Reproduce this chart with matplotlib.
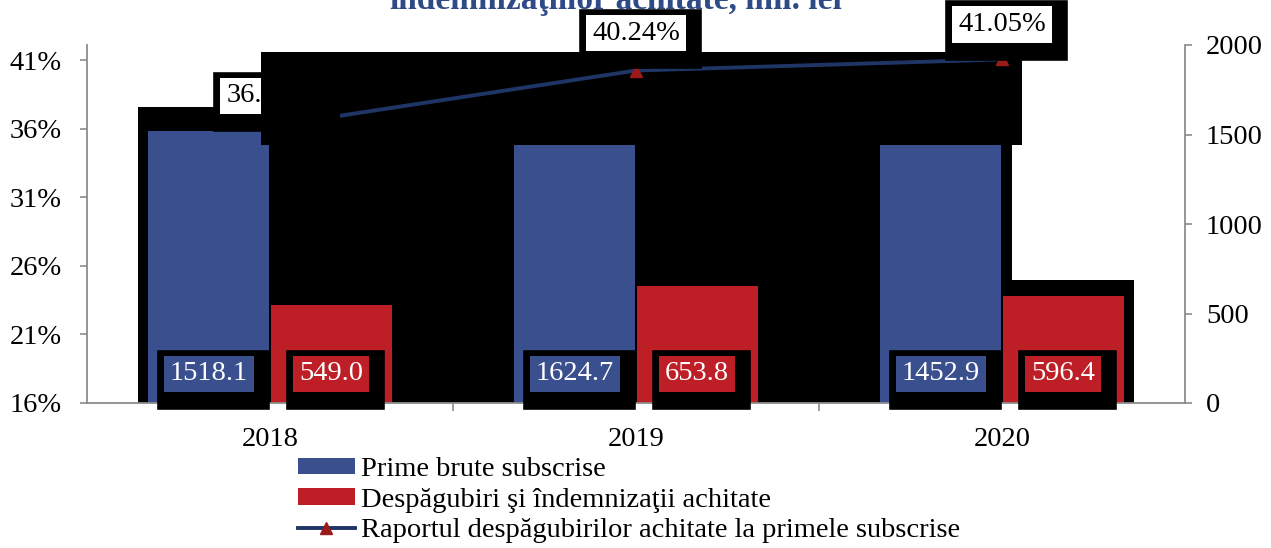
import matplotlib
matplotlib.use("Agg")
import matplotlib.pyplot as plt
import matplotlib.patheffects as pe
from matplotlib.patches import Rectangle
import numpy as np

plt.rcParams["font.family"] = ["Liberation Serif", "DejaVu Serif"]

years = ["2018", "2019", "2020"]
prime = [1518.1, 1624.7, 1452.9]          # Prime brute subscrise, mil. lei
desp = [549.0, 653.8, 596.4]              # Despăgubiri şi îndemnizaţii achitate
raport = [0.3616, 0.4024, 0.4105]         # raportul despăgubirilor / prime
pct_ticks = [0.16, 0.21, 0.26, 0.31, 0.36, 0.41]
mil_ticks = [0, 500, 1000, 1500, 2000]

BLUE, RED, NAVY, GRAY = "#3A4F8E", "#BE1E25", "#1F3566", "#8C8C8C"
FS = 20.5

fig = plt.figure(figsize=(12.71, 5.48), dpi=100)
ax = fig.add_axes([87 / 1271, 145 / 548, 1098 / 1271, 358 / 548])
ax2 = ax.twinx()
ax.yaxis.tick_right()
ax2.yaxis.tick_left()

x = np.arange(len(years))
w, off = 0.33, 0.167

# black "shadow" artefacts of the original export
for x0, x1, y1 in [(-0.36, -0.025, 1654), (-0.025, 2.027, 1441)]:
    ax.add_patch(Rectangle((x0, 0), x1 - x0, y1, fc="black", ec="none", zorder=1))
ax.add_patch(Rectangle((x[2] + off - w / 2, 0), w + 0.03, desp[2] + 90,
                       fc="black", ec="none", zorder=1))

b1 = ax.bar(x - off, prime, w, color=BLUE, zorder=2, label="Prime brute subscrise")
b2 = ax.bar(x + off, desp, w, color=RED, zorder=2,
            label="Despăgubiri şi îndemnizaţii achitate")


def boxed(axis, xv, yv, s, fc, tc, dy, z):
    t = axis.annotate(s, (xv, yv), xytext=(0, dy), textcoords="offset points",
                      ha="center", va="center", fontsize=FS, color=tc, zorder=z,
                      bbox=dict(boxstyle="square,pad=0.2", fc=fc, ec="none"))
    # solid black drop shadow, larger than the label box
    t.get_bbox_patch().set_path_effects([
        pe.SimplePatchShadow(offset=(3.2, -4.3), shadow_rgbFace="black", alpha=1.0,
                             linewidth=17, foreground="black", joinstyle="miter"),
        pe.Normal()])
    return t


for bars, vals, fc in ((b1, prime, BLUE), (b2, desp, RED)):
    for r, v in zip(bars, vals):
        boxed(ax, r.get_x() + r.get_width() / 2, 0, f"{v:.1f}", fc, "white", 21, 6)

ax.set_xlim(-0.5, 2.5)
ax.set_ylim(0, 2000)
ax.set_yticks(mil_ticks)
ax.set_xticks(x, years)
ax.set_xticks([0.5, 1.5], minor=True)
ax.tick_params(axis="x", which="major", length=0, pad=17, labelsize=FS)
ax.tick_params(axis="x", which="minor", length=6, width=1.2, color=GRAY, direction="out")
ax.tick_params(axis="y", length=5, width=1.2, color=GRAY, direction="out", pad=10, labelsize=FS)
for s in ("left", "right", "bottom"):
    ax.spines[s].set_color(GRAY)
    ax.spines[s].set_linewidth(1.3)
ax.spines["top"].set_visible(False)

# band drawn above the first percentage label, and a patch hiding the line start (as in the original)
ax2.add_patch(Rectangle((-0.025, 1441), 2.08, 520, transform=ax.transData,
                        fc="black", ec="none", zorder=3))
ax2.add_patch(Rectangle((-0.025, 1441), 0.215, 175, transform=ax.transData,
                        fc="black", ec="none", zorder=4.5))
ln, = ax2.plot(x, raport, color=NAVY, lw=2.8, marker="^", ms=9, mfc="#9B1B1B",
               mec="#9B1B1B", zorder=4,
               label="Raportul despăgubirilor achitate la primele subscrise")
pct_dy = [22, 27, 25]
for i, (xv, v) in enumerate(zip(x, raport)):
    boxed(ax2, xv, v, f"{v * 100:.2f}%", "white", "black", pct_dy[i], 2 if i == 0 else 5)

ax2.set_ylim(0.16, 0.421)
ax2.set_yticks(pct_ticks, [f"{t * 100:.0f}%" for t in pct_ticks])
ax2.tick_params(axis="y", length=5, width=1.2, color=GRAY, direction="out", pad=13, labelsize=FS)
for s in ax2.spines.values():
    s.set_visible(False)

fig.text(616 / 1271, 1 - 9 / 548, "îndemnizaţiilor achitate, mil. lei", ha="center",
         va="baseline", fontsize=24, fontweight="bold", color="#2E4A87")

fig.legend([b1, b2, ln], [b1.get_label(), b2.get_label(), ln.get_label()],
           loc="upper left", bbox_to_anchor=(298 / 1271, 1 - 457 / 548), frameon=False,
           fontsize=FS, handlelength=2.0, handletextpad=0.2, labelspacing=0.2,
           borderpad=0, borderaxespad=0, handleheight=0.5)

fig.savefig("out.png", dpi=100)
